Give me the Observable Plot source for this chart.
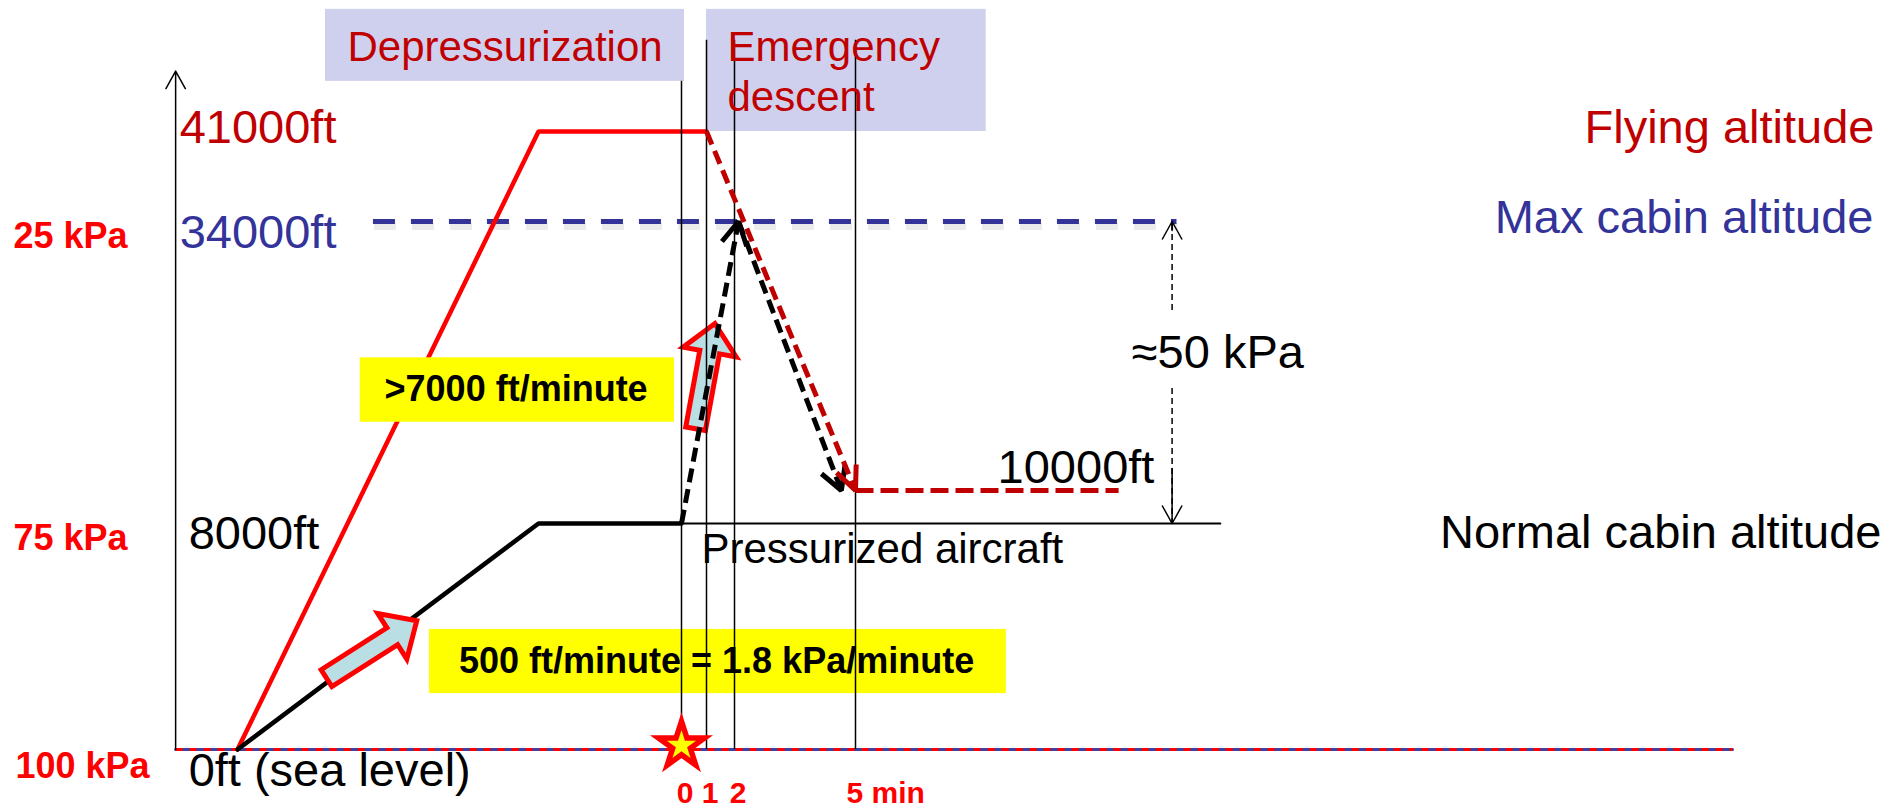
<!DOCTYPE html>
<html>
<head>
<meta charset="utf-8">
<style>
  html, body { margin: 0; padding: 0; background: #ffffff; overflow: hidden; }
  #chart svg { display: block; }
</style>
<script src="https://cdn.jsdelivr.net/npm/d3@7"></script>
<script src="https://cdn.jsdelivr.net/npm/@observablehq/plot@0.6"></script>
</head>
<body>
<div id="chart"></div>
<script>
// ---------- schematic axes ----------
const timeStops = [-30, -12, 0, 1, 2, 5, 15];          // minutes (0 = depressurization)
const altitudeStops = [0, 8000, 10000, 34000, 41000];   // ft

// ---------- series ----------
const flightTime = [-30, -12, 1];
const flightAlt = [0, 41000, 41000];
const descentTime = [1, 5];
const descentAlt = [41000, 10000];
const holdTime = [5, 8];
const holdAlt = [10000, 10000];
const cabinTime = [-30, -12, 0];
const cabinAlt = [0, 8000, 8000];
const cabinRiseTime = [0, 2.1];
const cabinRiseAlt = [8000, 34000];
const cabinFallTime = [2.1, 4.65];
const cabinFallAlt = [34000, 10000];
const pressurizedTime = [0, 9.16];
const pressurizedAlt = 8000;
const maxCabinTime = [-21.9, 8.66];
const maxCabinAlt = 34000;
const seaLevelTime = [-33.7, 15];
const axisTime = -33.7;
const axisTopAlt = 45700;
const eventTime = 0;

// ---------- time ticks ----------
const tickTimes = [0, 1, 2, 5];
const tickLabels = ["0", "1", "2", "5 min"];
const tickTopAlt = [44900, 48100, 48100, 48100];

// ---------- labels ----------
const pressureAlts = [34000, 8000, 0];
const pressureLabels = ["25 kPa", "75 kPa", "100 kPa"];
const altLabelAlts = [41000, 34000, 8000, 0];
const altLabels = ["41000ft", "34000ft", "8000ft", "0ft (sea level)"];
const rightLabelAlts = [41000, 34000, 8000];
const rightLabels = ["Flying altitude", "Max cabin altitude", "Normal cabin altitude"];

// ---------- phase boxes ----------
const phaseNames = ["Depressurization", "Emergency\ndescent"];
const phaseStart = [-24.74, 1];
const phaseEnd = [0.12, 6.49];
const phaseTopAlt = [50500, 50500];
const phaseBottomAlt = [44900, 41000];
const phaseTextTime = [-14.0, 1.75];
const phaseTextAlt = [46450, 42630];

// ---------- rate notes ----------
const noteTexts = [">7000 ft/minute", "500 ft/minute = 1.8 kPa/minute"];
const noteStart = [-22.66, -18.52];
const noteEnd = [-0.59, 6.72];
const noteLowAlt = [16090, 1980];
const noteHighAlt = [21840, 4250];
const noteCenterTime = [-13.34, 1.36];
const noteCenterAlt = [18970, 3115];

// ---------- block arrows ----------
const rateArrowTime = [1.30, -19.28];
const rateArrowAlt = [24900, 4560];
const rateArrowAngle = [10.4, 57.5];

// ---------- pressure difference ----------
const deltaTime = 8.61;
const deltaLabel = "≈50 kPa";
const deltaLabelTime = 8.15;
const deltaLabelAlt = 21000;
const deltaGapTop = 26060;
const deltaGapBottom = 19100;
const holdLabel = "10000ft";
const holdLabelTime = 6.62;
const pressurizedLabel = "Pressurized aircraft";
const pressurizedLabelTime = 0.8;

// ---------- build tables ----------
const pts = (ts, as) => ts.map((t, i) => ({t, alt: as[i]}));
const flight = pts(flightTime, flightAlt);
const descent = pts(descentTime, descentAlt);
const hold = pts(holdTime, holdAlt);
const cabin = pts(cabinTime, cabinAlt);
const cabinRise = pts(cabinRiseTime, cabinRiseAlt);
const cabinFall = pts(cabinFallTime, cabinFallAlt);
const seg = (a) => [{t1: a[0].t, a1: a[0].alt, t2: a[a.length - 1].t, a2: a[a.length - 1].alt}];
const phases = phaseNames.map((name, i) => ({name, t1: phaseStart[i], t2: phaseEnd[i], a1: phaseBottomAlt[i], a2: phaseTopAlt[i], tt: phaseTextTime[i], ta: phaseTextAlt[i]}));
const notes = noteTexts.map((text, i) => ({text, t1: noteStart[i], t2: noteEnd[i], a1: noteLowAlt[i], a2: noteHighAlt[i], tc: noteCenterTime[i], ac: noteCenterAlt[i]}));
const rateArrows = rateArrowTime.map((t, i) => ({t, alt: rateArrowAlt[i], angle: rateArrowAngle[i]}));
const ticks = tickTimes.map((t, i) => ({t, label: tickLabels[i], top: tickTopAlt[i]}));

// schematic (piecewise) layout of the diagram's time and altitude axes
const timeLayout = d3.scaleLinear(timeStops, [237, 538, 681, 706, 734, 855, 1732]);
const altitudeLayout = d3.scaleLinear(altitudeStops, [749, 523, 490, 221, 131]);

const FONT = "'Liberation Sans', Arial, Helvetica, sans-serif";
const DARKRED = "#c00000";
const BLUE = "#333399";

const blockArrow = {
  draw(ctx, l) {
    const s = 10, h = 27, hl = 29;
    ctx.moveTo(-s, 0);
    ctx.lineTo(-s, hl - l);
    ctx.lineTo(-h, hl - l);
    ctx.lineTo(0, -l);
    ctx.lineTo(h, hl - l);
    ctx.lineTo(s, hl - l);
    ctx.lineTo(s, 0);
    ctx.closePath();
  }
};

const dashed = (data, stroke, dash, width = 5) =>
  Plot.line(data, {x: "t", y: "alt", stroke, strokeWidth: width, strokeDasharray: dash, strokeLinecap: "butt", strokeLinejoin: "miter"});
const head = (data, stroke, inset, opts = {}) =>
  Plot.arrow(seg(data), {x1: "t1", y1: "a1", x2: "t2", y2: "a2", stroke, strokeWidth: 5, headLength: 7.8, headAngle: 58, insetStart: inset, strokeLinecap: "butt", strokeLinejoin: "miter", ...opts});

const label = (text, t, alt, o) =>
  Plot.text([{text, t, alt}], {x: "t", y: "alt", text: "text", lineAnchor: "bottom", fontSize: 47, ...o});
const edgeLabel = (text, alt, o) =>
  Plot.text([{text, alt}], {y: "alt", text: "text", lineAnchor: "bottom", ...o});

const chart = Plot.plot({
  width: 1891,
  height: 805,
  margin: 0,
  style: {fontFamily: FONT, background: "#ffffff", color: "#000000", overflow: "visible"},
  x: {type: "linear", transform: timeLayout, domain: [0, 1891], range: [0, 1891], axis: null},
  y: {type: "linear", transform: altitudeLayout, domain: [0, 805], range: [0, 805], axis: null},
  marks: [
    // phase boxes
    Plot.rect(phases, {x1: "t1", x2: "t2", y1: "a1", y2: "a2", fill: "#cfcfee"}),

    // sea level baseline (red / blue)
    Plot.line(pts(seaLevelTime, [0, 0]), {x: "t", y: "alt", stroke: "#4040a0", strokeWidth: 3}),
    Plot.line(pts(seaLevelTime, [0, 0]), {x: "t", y: "alt", stroke: "#ff0000", strokeWidth: 3, strokeDasharray: "7,7", strokeLinecap: "butt"}),

    // max cabin altitude (with soft shadow)
    Plot.line(pts(maxCabinTime, [maxCabinAlt, maxCabinAlt]), {x: "t", y: "alt", stroke: "#000000", strokeOpacity: 0.08, strokeWidth: 7, dy: 5, dx: 1, strokeDasharray: "22,16", strokeLinecap: "butt"}),
    Plot.line(pts(maxCabinTime, [maxCabinAlt, maxCabinAlt]), {x: "t", y: "alt", stroke: BLUE, strokeWidth: 5, strokeDasharray: "22,16", strokeLinecap: "butt"}),

    // flight profile and cabin altitude
    Plot.line(flight, {x: "t", y: "alt", stroke: "#ff0000", strokeWidth: 4.5, strokeLinejoin: "miter"}),
    Plot.line(cabin, {x: "t", y: "alt", stroke: "#000000", strokeWidth: 4.5, strokeLinejoin: "miter"}),

    // rate notes
    Plot.rect(notes, {x1: "t1", x2: "t2", y1: "a1", y2: "a2", fill: "#ffff00"}),

    // block arrows
    Plot.vector(rateArrows, {x: "t", y: "alt", rotate: "angle", length: 107, anchor: "end", shape: blockArrow,
      fill: "#b9dfe4", stroke: "#ff0000", strokeWidth: 5, strokeLinejoin: "miter"}),

    // time markers
    Plot.ruleX(ticks, {x: "t", y1: () => 0, y2: "top", stroke: "#000000", strokeWidth: 1.5}),
    Plot.line(pts(pressurizedTime, [pressurizedAlt, pressurizedAlt]), {x: "t", y: "alt", stroke: "#000000", strokeWidth: 2}),

    // vertical axis
    Plot.arrow([{t: axisTime, a1: 0, a2: axisTopAlt}], {x1: "t", x2: "t", y1: "a1", y2: "a2", stroke: "#000000", strokeWidth: 1.5, headLength: 20, headAngle: 58}),

    // dashed cabin / descent paths
    dashed(cabinRise, "#000000", "14,7"),
    head(cabinRise, "#000000", 303),
    dashed(cabinFall, "#000000", "14,7"),
    head(cabinFall, "#000000", 284),
    dashed(descent, DARKRED, "14,7"),
    dashed(hold, DARKRED, "18,7"),
    head(descent, DARKRED, 384, {headAngle: 48}),

    // ≈50 kPa double arrow
    Plot.ruleX([{t: deltaTime, a1: deltaGapTop, a2: maxCabinAlt}, {t: deltaTime, a1: deltaGapBottom, a2: pressurizedAlt}],
      {x: "t", y1: "a1", y2: "a2", stroke: "#000000", strokeWidth: 1.5, strokeDasharray: "6,4"}),
    Plot.arrow([{t: deltaTime, a1: deltaGapTop, a2: maxCabinAlt}, {t: deltaTime, a1: deltaGapBottom, a2: pressurizedAlt}],
      {x1: "t", x2: "t", y1: "a1", y2: "a2", stroke: "#000000", strokeWidth: 1.5, headLength: 20, headAngle: 58, insetStart: 80}),

    // depressurization event star
    Plot.dot([{t: eventTime, alt: 0}], {x: "t", y: "alt", symbol: "star", r: 14.5, fill: "#ffff00", stroke: "#ff0000", strokeWidth: 5.5, strokeLinejoin: "miter", dy: -4}),

    // ---------- texts ----------
    Plot.text(phases.slice(0, 1), {x: "tt", y: "ta", text: "name", textAnchor: "middle",
      lineAnchor: "bottom", fontSize: 42, fill: DARKRED}),
    Plot.text(phases.slice(1), {x: "tt", y: "ta", text: "name", textAnchor: "start",
      lineAnchor: "bottom", lineHeight: 1.19, fontSize: 42, fill: DARKRED}),
    Plot.text(notes, {x: "tc", y: "ac", text: "text", fontSize: 36, fontWeight: "bold", fill: "#000000"}),

    label(altLabels[0], axisTime, altLabelAlts[0], {dx: 4, dy: 11, textAnchor: "start", fill: DARKRED}),
    label(altLabels[1], axisTime, altLabelAlts[1], {dx: 4, dy: 26, textAnchor: "start", fill: BLUE}),
    label(altLabels[2], axisTime, altLabelAlts[2], {dx: 13, dy: 25, textAnchor: "start", fill: "#000000"}),
    label(altLabels[3], axisTime, altLabelAlts[3], {dx: 13, dy: 36, textAnchor: "start", fill: "#000000"}),

    edgeLabel(pressureLabels[0], pressureAlts[0], {frameAnchor: "left", dx: 13, dy: 26, textAnchor: "start", fontSize: 36, fontWeight: "bold", fill: "#ff0000"}),
    edgeLabel(pressureLabels[1], pressureAlts[1], {frameAnchor: "left", dx: 13, dy: 26, textAnchor: "start", fontSize: 36, fontWeight: "bold", fill: "#ff0000"}),
    edgeLabel(pressureLabels[2], pressureAlts[2], {frameAnchor: "left", dx: 15, dy: 28, textAnchor: "start", fontSize: 36, fontWeight: "bold", fill: "#ff0000"}),

    edgeLabel(rightLabels[0], rightLabelAlts[0], {frameAnchor: "right", dx: -17, dy: 11, textAnchor: "end", fontSize: 47, fill: DARKRED}),
    edgeLabel(rightLabels[1], rightLabelAlts[1], {frameAnchor: "right", dx: -18, dy: 11, textAnchor: "end", fontSize: 47, fill: BLUE}),
    edgeLabel(rightLabels[2], rightLabelAlts[2], {frameAnchor: "right", dx: -10, dy: 24, textAnchor: "end", fontSize: 47, fill: "#000000"}),

    label(holdLabel, holdLabelTime, holdAlt[0], {dy: -8, textAnchor: "start", fill: "#000000"}),
    label(pressurizedLabel, pressurizedLabelTime, pressurizedAlt, {dy: 39, textAnchor: "start", fontSize: 42, fill: "#000000"}),
    label(deltaLabel, deltaLabelTime, deltaLabelAlt, {dy: 1, textAnchor: "start", fill: "#000000"}),

    Plot.text(ticks.filter((d) => d.label.length === 1), {x: "t", y: () => 0, text: "label", dx: 3.5, dy: 53, lineAnchor: "bottom",
      textAnchor: "middle", fontSize: 30, fontWeight: "bold", fill: "#ff0000"}),
    Plot.text(ticks.filter((d) => d.label.length > 1), {x: "t", y: () => 0, text: "label", dx: -9, dy: 53, lineAnchor: "bottom",
      textAnchor: "start", fontSize: 30, fontWeight: "bold", fill: "#ff0000"})
  ]
});

document.getElementById("chart").appendChild(chart);
</script>
</body>
</html>
